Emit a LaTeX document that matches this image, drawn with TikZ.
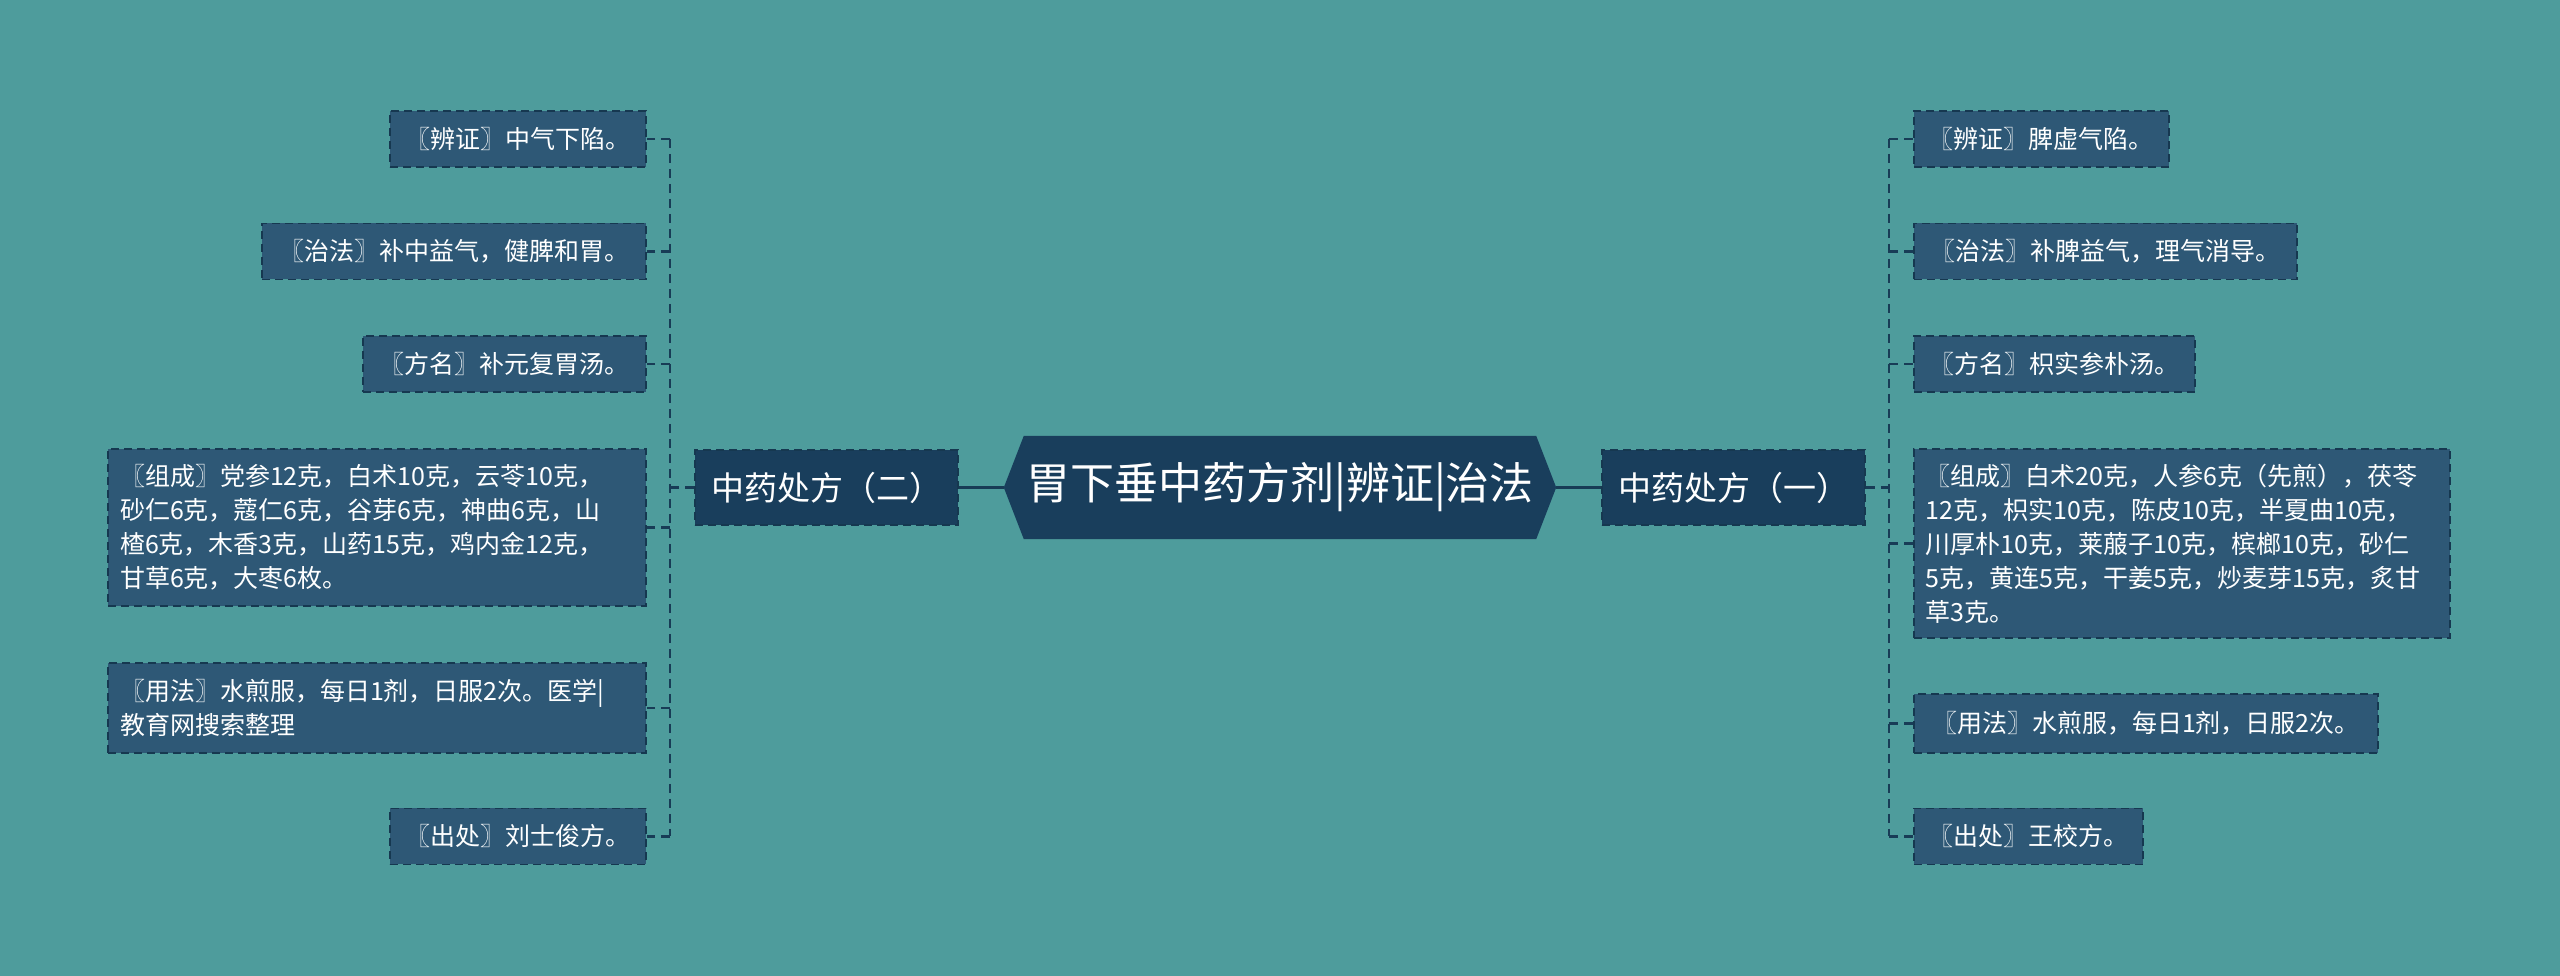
\documentclass[tikz,border=0pt]{standalone}
\usepackage{fontspec}
\setmainfont{Noto Sans CJK SC}
\usetikzlibrary{calc}
\pgfdeclarelayer{bg}
\pgfsetlayers{bg,main}
\definecolor{bgc}{RGB}{78,156,156}
\definecolor{leaffill}{RGB}{46,88,118}
\definecolor{branchfill}{RGB}{25,62,92}
\definecolor{edgec}{RGB}{22,56,80}
\definecolor{linec}{RGB}{24,60,86}
\tikzset{
  leaf/.style={draw=edgec, fill=leaffill, line width=1.8pt, dash pattern=on 8pt off 5pt,
    text=white, font=\fontsize{25}{34}\selectfont, inner xsep=14pt, inner ysep=0pt, minimum height=56pt},
  multi/.style={align=left, inner xsep=12pt},
  branch/.style={draw=edgec, fill=branchfill, line width=1.8pt, dash pattern=on 8pt off 5pt,
    text=white, font=\fontsize{33}{38}\selectfont, inner sep=0pt, minimum width=263pt, minimum height=75pt},
  rootnode/.style={text=white, font=\fontsize{44}{50}\selectfont, inner sep=0pt, minimum width=552pt, minimum height=103pt},
  conn/.style={draw=linec, line width=2.2pt, dash pattern=on 9pt off 6pt},
  rootline/.style={draw=linec, line width=3pt},
}
\begin{document}
\begin{tikzpicture}[x=1pt,y=1pt]
\useasboundingbox (0,0) rectangle (2560,976);

\node[rootnode] (root) at (1280,488.5) {胃下垂中药方剂|辨证|治法};
\node[branch] (b1) at (1733.5,488.5) {中药处方（一）};
\node[branch] (b2) at (826.5,488.5) {中药处方（二）};

% right leaves
\node[leaf, anchor=west, minimum width=255pt] (r1) at (1913,837) {〖辨证〗脾虚气陷。};
\node[leaf, anchor=west, minimum width=383pt] (r2) at (1913,724.5) {〖治法〗补脾益气，理气消导。};
\node[leaf, anchor=west, minimum width=281pt] (r3) at (1913,612) {〖方名〗枳实参朴汤。};
\node[leaf, multi, anchor=west, text width=512pt, minimum height=189pt] (r4) at (1913,432.5) {〖组成〗白术20克，人参6克（先煎），茯苓\\12克，枳实10克，陈皮10克，半夏曲10克，\\川厚朴10克，莱菔子10克，槟榔10克，砂仁\\5克，黄连5克，干姜5克，炒麦芽15克，炙甘\\草3克。};
\node[leaf, anchor=west, minimum width=464pt, minimum height=59pt] (r5) at (1913,252.5) {〖用法〗水煎服，每日1剂，日服2次。};
\node[leaf, anchor=west, minimum width=229pt] (r6) at (1913,139.5) {〖出处〗王校方。};

% left leaves
\node[leaf, anchor=east, minimum width=256pt] (l1) at (647,837) {〖辨证〗中气下陷。};
\node[leaf, anchor=east, minimum width=384pt] (l2) at (647,724.5) {〖治法〗补中益气，健脾和胃。};
\node[leaf, anchor=east, minimum width=283pt] (l3) at (647,612) {〖方名〗补元复胃汤。};
\node[leaf, multi, anchor=east, text width=514pt, minimum height=157pt] (l4) at (647,448.5) {〖组成〗党参12克，白术10克，云苓10克，\\砂仁6克，蔻仁6克，谷芽6克，神曲6克，山\\楂6克，木香3克，山药15克，鸡内金12克，\\甘草6克，大枣6枚。};
\node[leaf, multi, anchor=east, text width=514pt, minimum height=90pt] (l5) at (647,268) {〖用法〗水煎服，每日1剂，日服2次。医学|\\教育网搜索整理};
\node[leaf, anchor=east, minimum width=256pt] (l6) at (647,139.5) {〖出处〗刘士俊方。};

% trunks
\coordinate (tr) at (1889,0);
\coordinate (tl) at (670,0);

\begin{pgfonlayer}{bg}
\fill[bgc] (0,0) rectangle (2560,976);
\fill[branchfill] (root.west) -- ([xshift=20pt]root.north west) -- ([xshift=-20pt]root.north east) -- (root.east) -- ([xshift=-20pt]root.south east) -- ([xshift=20pt]root.south west) -- cycle;
\draw[rootline] (root.east) -- (b1.west);
\draw[rootline] (root.west) -- (b2.east);
\end{pgfonlayer}

\draw[conn] (b1.east) -- (b1.east -| tr);
\draw[conn] (r1.west -| tr) -- (r6.west -| tr);
\foreach \n in {r1,r2,r3,r4,r5,r6} \draw[conn] (\n.west -| tr) -- (\n.west);

\draw[conn] (b2.west) -- (b2.west -| tl);
\draw[conn] (l1.east -| tl) -- (l6.east -| tl);
\foreach \n in {l1,l2,l3,l4,l5,l6} \draw[conn] (\n.east -| tl) -- (\n.east);
\end{tikzpicture}
\end{document}
